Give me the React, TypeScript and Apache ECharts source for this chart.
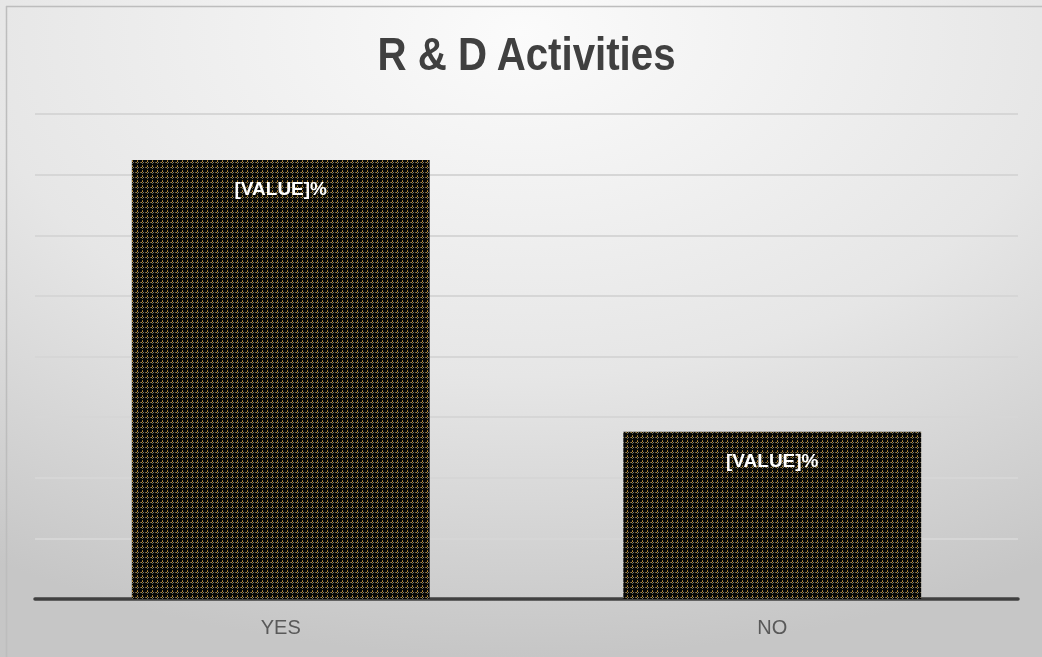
import React, { useEffect, useRef } from "react";
import * as echarts from "echarts";

const categories = ["YES", "NO"];
const shares = [72.4, 27.6];
const valueLabels = ["[VALUE]%", "[VALUE]%"];
const axisMin = 0;
const axisMax = 80;
const axisStep = 10;
const chartTitle = "R & D Activities";

const FONT = "'Liberation Sans Narrow', 'Arial Narrow', 'Liberation Sans', sans-serif";

// Small dotted tile used to fill the bars: dark ground with gold and grey specks.
function makeDotTile(): HTMLCanvasElement {
  const c = document.createElement("canvas");
  c.width = 5;
  c.height = 5;
  const ctx = c.getContext("2d")!;
  ctx.fillStyle = "#080806";
  ctx.fillRect(0, 0, 5, 5);
  const dots: [number, number, string][] = [
    [2, 0, "#8a6a2c"],
    [2, 1, "#c0903a"],
    [1, 2, "#a88438"],
    [3, 2, "#7a7a6c"],
    [2, 3, "#6c6c5e"],
    [0, 2, "#5e5646"],
  ];
  dots.forEach(([x, y, col]) => {
    ctx.fillStyle = col;
    ctx.fillRect(x, y, 1, 1);
  });
  return c;
}

export default function App() {
  const ref = useRef<HTMLDivElement>(null);

  useEffect(() => {
    if (!ref.current) return;
    const chart = echarts.init(ref.current, undefined, { renderer: "svg" });
    const tile = makeDotTile();

    chart.setOption({
      animation: false,
      backgroundColor: {
        type: "radial",
        x: 0.5,
        y: 0.05,
        r: 0.95,
        colorStops: [
          { offset: 0, color: "#fbfbfb" },
          { offset: 0.55, color: "#e6e6e6" },
          { offset: 1, color: "#c6c6c6" },
        ],
      },
      graphic: [
        {
          type: "line",
          shape: { x1: 6, y1: 6.5, x2: 1042, y2: 6.5 },
          style: { stroke: "#bdbdbd", lineWidth: 1.5 },
          silent: true,
        },
        {
          type: "line",
          shape: { x1: 6.5, y1: 6, x2: 6.5, y2: 657 },
          style: { stroke: "#bdbdbd", lineWidth: 1.5 },
          silent: true,
        },
        {
          // condensed bold heading
          type: "text",
          x: 526.5,
          y: 53,
          scaleX: 0.856,
          silent: true,
          style: {
            text: chartTitle,
            x: 0,
            y: 0,
            align: "center",
            verticalAlign: "middle",
            fontFamily: FONT,
            fontWeight: "bold",
            fontSize: 47,
            fill: "#404040",
          },
        },
      ],
      grid: { left: 35, right: 24, top: 114, bottom: 58 },
      xAxis: {
        type: "category",
        data: categories,
        axisTick: { show: false },
        axisLine: { lineStyle: { color: "#404040", width: 3.5 } },
        axisLabel: {
          margin: 18,
          fontFamily: FONT,
          fontSize: 20,
          color: "#595959",
        },
      },
      yAxis: {
        type: "value",
        min: axisMin,
        max: axisMax,
        interval: axisStep,
        axisLabel: { show: false },
        axisLine: { show: false },
        axisTick: { show: false },
        splitLine: { lineStyle: { color: "#d6d6d6", width: 2 } },
      },
      series: [
        {
          type: "bar",
          data: shares,
          barWidth: "60.6%",
          itemStyle: {
            color: { image: tile, repeat: "repeat" },
          },
          label: {
            show: true,
            position: "insideTop",
            distance: 19,
            formatter: (p: any) => valueLabels[p.dataIndex],
            fontFamily: FONT,
            fontWeight: "bold",
            fontSize: 19,
            color: "#ffffff",
          },
        },
      ],
    });

    return () => chart.dispose();
  }, []);

  return (
    <div
      ref={ref}
      style={{ position: "fixed", left: 0, top: 0, width: 1042, height: 657 }}
    />
  );
}
